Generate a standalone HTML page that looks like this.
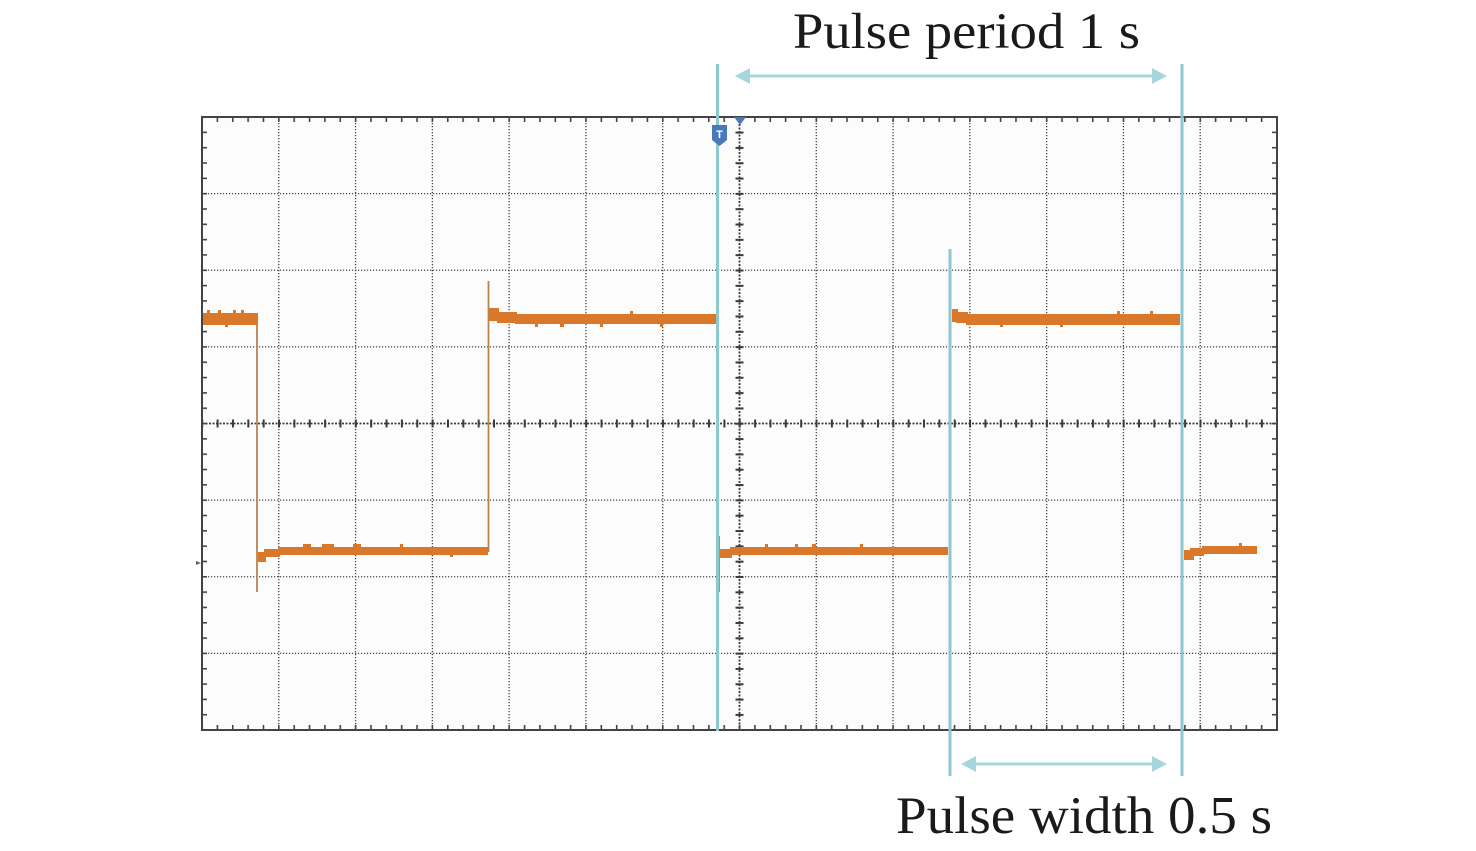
<!DOCTYPE html>
<html>
<head>
<meta charset="utf-8">
<style>
  html, body { margin:0; padding:0; background:#ffffff; }
  svg { display:block; }
</style>
</head>
<body>
<svg width="1476" height="851" viewBox="0 0 1476 851" xmlns="http://www.w3.org/2000/svg">
  <defs>
    <pattern id="tickTop" x="201.25" y="0" width="15.357" height="6" patternUnits="userSpaceOnUse">
      <rect x="0" y="0" width="1.6" height="6" fill="#444"/>
    </pattern>
    <pattern id="tickLeft" x="0" y="116.25" width="6" height="15.325" patternUnits="userSpaceOnUse">
      <rect x="0" y="0" width="6" height="1.6" fill="#444"/>
    </pattern>
    <pattern id="tickCV" x="0" y="116.25" width="10" height="15.325" patternUnits="userSpaceOnUse">
      <rect x="0" y="0" width="10" height="2" fill="#3a3a3a"/>
    </pattern>
    <pattern id="tickCH" x="201.25" y="0" width="15.357" height="10" patternUnits="userSpaceOnUse">
      <rect x="0" y="0" width="2" height="10" fill="#3a3a3a"/>
    </pattern>
  </defs>

  <!-- plot background -->
  <rect x="202" y="117" width="1075" height="613" fill="#fcfcfc"/>

  <!-- grid -->
  <g stroke="#444" stroke-width="1.3" stroke-dasharray="1.2 1.8" fill="none">
    <line x1="278.79" y1="117" x2="278.79" y2="730"/>
    <line x1="355.57" y1="117" x2="355.57" y2="730"/>
    <line x1="432.36" y1="117" x2="432.36" y2="730"/>
    <line x1="509.14" y1="117" x2="509.14" y2="730"/>
    <line x1="585.93" y1="117" x2="585.93" y2="730"/>
    <line x1="662.71" y1="117" x2="662.71" y2="730"/>
    <line x1="816.29" y1="117" x2="816.29" y2="730"/>
    <line x1="893.07" y1="117" x2="893.07" y2="730"/>
    <line x1="969.86" y1="117" x2="969.86" y2="730"/>
    <line x1="1046.64" y1="117" x2="1046.64" y2="730"/>
    <line x1="1123.43" y1="117" x2="1123.43" y2="730"/>
    <line x1="1200.21" y1="117" x2="1200.21" y2="730"/>
    <line x1="202" y1="193.62" x2="1277" y2="193.62"/>
    <line x1="202" y1="270.25" x2="1277" y2="270.25"/>
    <line x1="202" y1="346.87" x2="1277" y2="346.87"/>
    <line x1="202" y1="500.12" x2="1277" y2="500.12"/>
    <line x1="202" y1="576.75" x2="1277" y2="576.75"/>
    <line x1="202" y1="653.37" x2="1277" y2="653.37"/>
  </g>
  <!-- center axes (denser dots) -->
  <g stroke="#3a3a3a" stroke-width="1.8" stroke-dasharray="2 1.5" fill="none">
    <line x1="739.5" y1="117" x2="739.5" y2="730"/>
    <line x1="202" y1="423.5" x2="1277" y2="423.5"/>
  </g>
  <!-- center axis ticks -->
  <rect x="735.5" y="118" width="8" height="612" fill="url(#tickCV)"/>
  <rect x="203" y="419.5" width="1073" height="8" fill="url(#tickCH)"/>

  <!-- border ticks -->
  <rect x="203" y="117" width="1073" height="5" fill="url(#tickTop)"/>
  <rect x="203" y="725" width="1073" height="5" fill="url(#tickTop)"/>
  <rect x="202" y="118" width="5" height="611" fill="url(#tickLeft)"/>
  <rect x="1272" y="118" width="5" height="611" fill="url(#tickLeft)"/>

  <!-- trace: edges -->
  <g stroke="#b9834f" stroke-width="1.8" fill="none">
    <line x1="257" y1="319" x2="257" y2="592"/>
    <line x1="488.5" y1="281" x2="488.5" y2="552"/>
    <line x1="719" y1="536" x2="719" y2="592"/>
    <line x1="717.5" y1="319" x2="717.5" y2="552"/>
    <line x1="950.5" y1="319" x2="950.5" y2="552"/>
    <line x1="1182" y1="319" x2="1182" y2="565"/>
  </g>
  <!-- trace: levels -->
  <g fill="#d9782b">
    <!-- high 1 -->
    <rect x="202" y="313" width="56" height="12"/>
    <rect x="207" y="310" width="3" height="4"/>
    <rect x="218" y="310" width="3" height="4"/>
    <rect x="233" y="310" width="3" height="4"/>
    <rect x="241" y="310" width="3" height="4"/>
    <rect x="225" y="324" width="3" height="3"/>
    <!-- low 1 -->
    <rect x="258" y="552" width="8" height="10"/>
    <rect x="264" y="549" width="16" height="8"/>
    <rect x="278" y="547" width="210" height="8"/>
    <rect x="303" y="544" width="8" height="4"/>
    <rect x="322" y="544" width="12" height="4"/>
    <rect x="353" y="544" width="8" height="4"/>
    <rect x="400" y="544" width="3" height="4"/>
    <rect x="450" y="554" width="3" height="3"/>
    <!-- high 2 -->
    <rect x="489" y="308" width="10" height="13"/>
    <rect x="497" y="312" width="20" height="11"/>
    <rect x="515" y="314" width="201" height="10"/>
    <rect x="535" y="323" width="3" height="4"/>
    <rect x="560" y="323" width="4" height="4"/>
    <rect x="600" y="323" width="3" height="4"/>
    <rect x="630" y="311" width="3" height="4"/>
    <rect x="660" y="323" width="3" height="4"/>
    <!-- low 2 -->
    <rect x="720" y="549" width="12" height="9"/>
    <rect x="730" y="547" width="218" height="8"/>
    <rect x="765" y="544" width="3" height="4"/>
    <rect x="795" y="544" width="3" height="4"/>
    <rect x="812" y="544" width="4" height="4"/>
    <rect x="860" y="544" width="3" height="4"/>
    <!-- high 3 -->
    <rect x="952" y="309" width="6" height="13"/>
    <rect x="956" y="312" width="12" height="11"/>
    <rect x="966" y="314" width="214" height="11"/>
    <rect x="1000" y="323" width="3" height="4"/>
    <rect x="1060" y="323" width="3" height="4"/>
    <rect x="1117" y="311" width="3" height="4"/>
    <rect x="1150" y="311" width="3" height="4"/>
    <!-- low 3 -->
    <rect x="1184" y="550" width="10" height="10"/>
    <rect x="1190" y="548" width="14" height="8"/>
    <rect x="1202" y="546" width="55" height="8"/>
    <rect x="1239" y="543" width="3" height="4"/>
  </g>

  <!-- border -->
  <rect x="202" y="117" width="1075" height="613" fill="none" stroke="#444" stroke-width="2"/>

  <!-- ground marker -->
  <polygon points="196,561 201,563 196,565" fill="#7a5a50"/>

  <!-- trigger position marker -->
  <polygon points="734,117 746,117 740,125" fill="#4a78be"/>

  <!-- cursor lines -->
  <g stroke="#8ec8cf" stroke-width="3">
    <line x1="717.5" y1="64" x2="717.5" y2="731"/>
    <line x1="950" y1="249" x2="950" y2="776"/>
    <line x1="1182" y1="64" x2="1182" y2="776"/>
  </g>

  <!-- trigger T marker -->
  <path d="M712,125 L727,125 L727,140 L719.5,146 L712,140 Z" fill="#4a78be"/>
  <text x="719.5" y="138" font-family="Liberation Sans, sans-serif" font-size="11" font-weight="bold" fill="#ffffff" text-anchor="middle">T</text>

  <!-- arrows -->
  <g stroke="#a6d6db" stroke-width="3">
    <line x1="745" y1="76" x2="1157" y2="76"/>
    <line x1="971" y1="764" x2="1157" y2="764"/>
  </g>
  <g fill="#a6d6db">
    <polygon points="735,76 750,68 750,84"/>
    <polygon points="1167,76 1152,68 1152,84"/>
    <polygon points="961,764 976,756 976,772"/>
    <polygon points="1167,764 1152,756 1152,772"/>
  </g>

  <!-- labels -->
  <text x="793" y="48" font-family="Liberation Serif, serif" font-size="51" fill="#1a1a1a" textLength="347" lengthAdjust="spacingAndGlyphs">Pulse period 1 s</text>
  <text x="896" y="833" font-family="Liberation Serif, serif" font-size="53" fill="#1a1a1a" textLength="376" lengthAdjust="spacingAndGlyphs">Pulse width 0.5 s</text>
</svg>
</body>
</html>
